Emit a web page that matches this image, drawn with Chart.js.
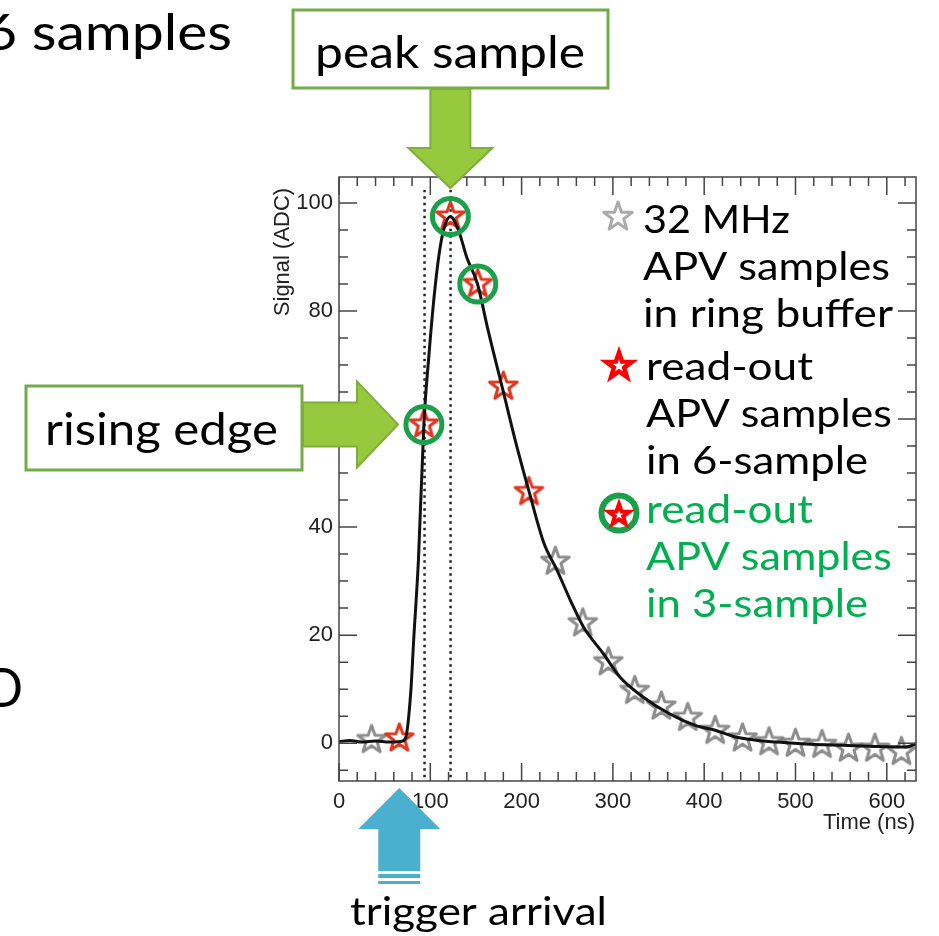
<!DOCTYPE html>
<html>
<head>
<meta charset="utf-8">
<title>APV pulse sampling</title>
<script src="https://cdn.jsdelivr.net/npm/chart.js@4.4.1/dist/chart.umd.min.js"></script>
<style>
  html, body { margin: 0; padding: 0; background: #fff; }
  #wrap { width: 939px; height: 936px; }
</style>
</head>
<body>
<div id="wrap"><canvas id="pulse" width="939" height="936"></canvas></div>
<script>
// ---------- Data ----------
const xTickLabels = [0, 100, 200, 300, 400, 500, 600];
const yTickLabels = [0, 20, 40, 60, 80, 100];

// measured pulse, Time (ns) vs Signal (ADC)
const curveTime   = [0, 12, 25, 40, 55, 68, 73, 78.5, 82, 87, 93, 98.4, 103.8, 109.2, 114.6, 121.8, 130.8, 139.8, 151.7, 163.2, 179.5, 193.9, 208.3, 224.5, 238.9, 253.3, 267.8, 289.4, 307.4, 332.6, 361.4, 390.3, 412, 433.5, 455, 480, 516, 552, 588, 621, 632];
const curveSignal = [0.3, 0.5, 0.2, 0.4, 0.2, 0.3, 1.0, 9.2, 19.7, 33.9, 59.2, 71.6, 82, 90, 95, 97.5, 95, 90, 85, 76.5, 65.4, 55.5, 46.5, 37, 32, 26.5, 21.5, 16.6, 12.3, 8.6, 5.5, 3.3, 2.4, 1.2, 0.6, 0.2, -0.2, -0.4, -0.6, -0.7, -0.1];

// 32 MHz samples that stay in the ring buffer
const ringTime   = [35.7, 237, 267, 295, 324, 353, 382, 412, 442, 471, 500, 529, 558, 587, 616];
const ringSignal = [0.6, 33.6, 22.2, 15, 9.7, 6.8, 4.7, 2.3, 0.9, 0.2, -0.1, -0.3, -1.0, -1.0, -1.6];

// read-out samples, 6-sample mode
const read6Time   = [66, 93, 122, 152, 180, 208];
const read6Signal = [0.9, 59, 97.5, 85, 66, 46.5];

// read-out samples, 3-sample mode
const read3Time   = [93, 122, 152];
const read3Signal = [59, 97.5, 85];

// dotted guide lines (rising edge / peak)
const guideTime = [93.7, 122.2];
const guideSpan = [-6.3, 102.4];

// legend text
const legendRing  = ['32 MHz', 'APV samples', 'in ring buffer'];
const legendRead6 = ['read-out', 'APV samples', 'in 6-sample'];
const legendRead3 = ['read-out', 'APV samples', 'in 3-sample'];

// ---------- Helpers ----------
const SLIDE_FONT = 'Lato, "Open Sans", sans-serif';
const PLOT_FONT = '"Liberation Sans", Arial, sans-serif';

function zip(xs, ys) {
  return xs.map((x, i) => ({ x: x, y: ys[i] }));
}

function starPath(g, cx, cy, r) {
  g.beginPath();
  for (let i = 0; i < 10; i++) {
    const rad = i % 2 ? r * 0.4 : r;
    const a = -Math.PI / 2 + i * Math.PI / 5;
    const px = cx + rad * Math.cos(a), py = cy + rad * Math.sin(a);
    if (i) g.lineTo(px, py); else g.moveTo(px, py);
  }
  g.closePath();
}

function starImage(r, color, lw) {
  const size = Math.ceil(2 * r + 2 * lw + 4);
  const c = document.createElement('canvas');
  c.width = c.height = size;
  const g = c.getContext('2d');
  starPath(g, size / 2, size / 2, r);
  g.lineJoin = 'round';
  g.strokeStyle = color;
  g.lineWidth = lw;
  g.stroke();
  return c;
}

// draw text squeezed/stretched to a given width (Calibri is not installed)
function fitText(ctx, text, x, y, width, size, color) {
  ctx.save();
  ctx.font = size + 'px ' + SLIDE_FONT;
  const w = ctx.measureText(text).width;
  ctx.translate(x, y);
  ctx.scale(width / w, 1);
  ctx.fillStyle = color;
  ctx.textAlign = 'left';
  ctx.textBaseline = 'alphabetic';
  ctx.fillText(text, 0, 0);
  ctx.restore();
}

function arrow(ctx, pts, fill, stroke) {
  ctx.beginPath();
  pts.forEach((p, i) => i ? ctx.lineTo(p[0], p[1]) : ctx.moveTo(p[0], p[1]));
  ctx.closePath();
  ctx.fillStyle = fill;
  ctx.fill();
  if (stroke) {
    ctx.strokeStyle = stroke;
    ctx.lineWidth = 2;
    ctx.stroke();
  }
}

function greenBox(ctx, x, y, w, h) {
  ctx.fillStyle = '#fff';
  ctx.fillRect(x, y, w, h);
  ctx.strokeStyle = '#70ad47';
  ctx.lineWidth = 3;
  ctx.strokeRect(x, y, w, h);
}

const grayStar = starImage(14.5, 'rgba(120,120,120,0.85)', 3);
const redStar = starImage(14.5, '#e2341f', 3);

// ---------- Plot frame, inward ticks, titles, legend and slide notes ----------
const decor = {
  id: 'decor',
  afterDraw(chart) {
    const ctx = chart.ctx;
    const a = chart.chartArea;
    const xs = chart.scales.x, ys = chart.scales.y;
    ctx.save();

    // frame
    ctx.strokeStyle = '#444';
    ctx.lineWidth = 1.5;
    ctx.strokeRect(a.left, a.top, a.right - a.left, a.bottom - a.top);

    // ROOT style ticks on all four sides
    ctx.beginPath();
    for (let v = 0; v <= xs.max; v += 20) {
      const px = xs.getPixelForValue(v);
      const len = v % 100 === 0 ? 18 : 9;
      ctx.moveTo(px, a.bottom); ctx.lineTo(px, a.bottom - len);
      ctx.moveTo(px, a.top); ctx.lineTo(px, a.top + len);
    }
    for (let v = -5; v <= ys.max; v += 5) {
      const py = ys.getPixelForValue(v);
      const len = v % 20 === 0 ? 18 : 9;
      ctx.moveTo(a.left, py); ctx.lineTo(a.left + len, py);
      ctx.moveTo(a.right, py); ctx.lineTo(a.right - len, py);
    }
    ctx.stroke();

    // axis titles
    ctx.fillStyle = '#222';
    ctx.font = '22px ' + PLOT_FONT;
    ctx.textAlign = 'right';
    ctx.textBaseline = 'alphabetic';
    ctx.fillText('Time (ns)', a.right - 1, 829);
    ctx.save();
    ctx.translate(289, 252);
    ctx.rotate(-Math.PI / 2);
    ctx.textAlign = 'center';
    ctx.fillText('Signal (ADC)', 0, 0);
    ctx.restore();

    // legend
    const lx = 619;
    ctx.drawImage(starImage(15, '#aaa', 3), lx - 21, 218 - 21);
    ctx.save();
    starPath(ctx, lx, 366, 13.5);
    ctx.fillStyle = '#fff'; ctx.fill();
    ctx.strokeStyle = '#f00'; ctx.lineWidth = 4.5; ctx.lineJoin = 'miter'; ctx.stroke();
    ctx.beginPath(); ctx.arc(lx, 513, 17.5, 0, 2 * Math.PI);
    ctx.fillStyle = '#fff'; ctx.fill();
    ctx.strokeStyle = '#1a9f4a'; ctx.lineWidth = 6; ctx.stroke();
    starPath(ctx, lx, 515, 11);
    ctx.strokeStyle = '#f00'; ctx.lineWidth = 4; ctx.stroke();
    ctx.restore();

    const widths = [[147, 247, 250], [167, 246, 222], [167, 246, 222]];
    const rows = [legendRing, legendRead6, legendRead3];
    const colors = ['#000', '#000', '#00b050'];
    const base = [233, 380, 523];
    rows.forEach((lines, r) => {
      lines.forEach((t, i) => {
        fitText(ctx, t, r === 0 ? 643 : 646, base[r] + i * 47, widths[r][i], 38, colors[r]);
      });
    });

    // "peak sample" call-out, arrow points at the peak sample
    const peakX = xs.getPixelForValue(read6Time[2]);
    greenBox(ctx, 293, 10, 315, 78);
    fitText(ctx, 'peak sample', 315, 68, 270, 44, '#000');
    arrow(ctx, [[peakX - 20, 89], [peakX + 20, 89], [peakX + 20, 148], [peakX + 42, 148],
                [peakX, 188], [peakX - 42, 148], [peakX - 20, 148]], '#96c93d', '#7fae3c');

    // "rising edge" call-out, arrow points at the rising-edge sample
    const riseY = ys.getPixelForValue(read6Signal[1]);
    greenBox(ctx, 26, 386, 276, 84);
    fitText(ctx, 'rising edge', 45, 445, 233, 44, '#000');
    arrow(ctx, [[303, riseY - 22], [357, riseY - 22], [357, riseY - 43], [398, riseY],
                [357, riseY + 43], [357, riseY + 22], [303, riseY + 22]], '#96c93d', '#7fae3c');

    // trigger arrival arrow under the first read-out sample
    const trigX = xs.getPixelForValue(read6Time[0]);
    arrow(ctx, [[trigX, 788], [trigX + 41, 829], [trigX + 21, 829], [trigX + 21, 871],
                [trigX - 21, 871], [trigX - 21, 829], [trigX - 41, 829]], '#4bb0cf');
    ctx.fillStyle = '#4bb0cf';
    ctx.fillRect(trigX - 21, 874, 42, 4);
    ctx.fillRect(trigX - 21, 881, 42, 3);
    fitText(ctx, 'trigger arrival', 350, 925, 257, 38, '#000');

    // pieces of the slide text cut off at the left edge
    fitText(ctx, '6 samples', -16, 50, 248, 50, '#000');
    fitText(ctx, 'D', -15, 707, 38, 54, '#000');

    ctx.restore();
  }
};

// ---------- Chart ----------
new Chart(document.getElementById('pulse'), {
  type: 'scatter',
  data: {
    datasets: [
      {
        label: 'read-out APV samples in 3-sample',
        data: zip(read3Time, read3Signal),
        pointStyle: 'circle', pointRadius: 18,
        pointBorderColor: '#1a9f4a', pointBorderWidth: 5,
        pointBackgroundColor: 'rgba(0,0,0,0)'
      },
      {
        label: 'pulse',
        data: zip(curveTime, curveSignal),
        showLine: true, borderColor: '#111', borderWidth: 3,
        pointRadius: 0, cubicInterpolationMode: 'monotone'
      },
      {
        label: 'read-out APV samples in 6-sample',
        data: zip(read6Time, read6Signal),
        pointStyle: redStar, pointRadius: 14
      },
      {
        label: '32 MHz APV samples in ring buffer',
        data: zip(ringTime, ringSignal),
        pointStyle: grayStar, pointRadius: 14
      },
      {
        label: 'rising edge guide',
        data: guideSpan.map(v => ({ x: guideTime[0], y: v })),
        showLine: true, borderColor: '#222', borderWidth: 2.5, borderDash: [2.5, 4], pointRadius: 0
      },
      {
        label: 'peak guide',
        data: guideSpan.map(v => ({ x: guideTime[1], y: v })),
        showLine: true, borderColor: '#222', borderWidth: 2.5, borderDash: [2.5, 4], pointRadius: 0
      }
    ]
  },
  options: {
    responsive: false,
    animation: false,
    devicePixelRatio: 1,
    events: [],
    layout: { padding: { top: 177, right: 15, left: 0, bottom: 0 } },
    plugins: { legend: { display: false }, tooltip: { enabled: false } },
    scales: {
      x: {
        type: 'linear', min: 0, max: 632,
        afterFit: s => { s.height = 155; },
        afterBuildTicks: s => { s.ticks = xTickLabels.map(v => ({ value: v })); },
        grid: { display: false, drawTicks: false },
        border: { display: false },
        ticks: { font: { family: PLOT_FONT, size: 22 }, color: '#222', padding: 8, maxRotation: 0, autoSkip: false }
      },
      y: {
        type: 'linear', min: -7, max: 104.8,
        afterFit: s => { s.width = 339; },
        afterBuildTicks: s => { s.ticks = yTickLabels.map(v => ({ value: v })); },
        grid: { display: false, drawTicks: false },
        border: { display: false },
        ticks: { font: { family: PLOT_FONT, size: 22 }, color: '#222', padding: 6, autoSkip: false }
      }
    }
  },
  plugins: [decor]
});
</script>
</body>
</html>
